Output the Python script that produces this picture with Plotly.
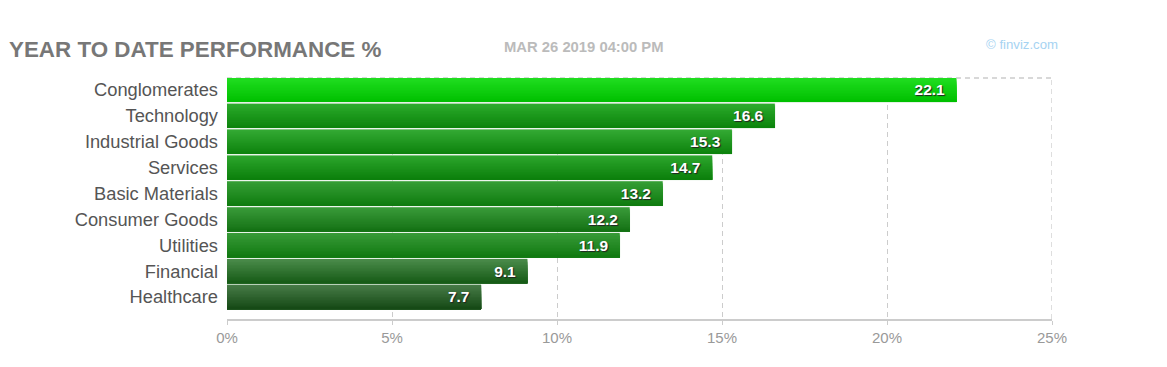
import plotly.graph_objects as go

categories = ["Conglomerates", "Technology", "Industrial Goods", "Services", "Basic Materials",
              "Consumer Goods", "Utilities", "Financial", "Healthcare"]
values = [22.1, 16.6, 15.3, 14.7, 13.2, 12.2, 11.9, 9.1, 7.7]
labels = ["22.1", "16.6", "15.3", "14.7", "13.2", "12.2", "11.9", "9.1", "7.7"]
top_colors = ["#20dd20", "#2cab2c", "#33a933", "#2ca52c", "#359e35", "#3a9a3a", "#379a37", "#4a8a4a", "#467a46"]
bottom_colors = ["#00c000", "#0c840c", "#0e840e", "#0c800c", "#107c10", "#147214", "#127a12", "#175c17", "#164a16"]
x_ticks = [0, 5, 10, 15, 20, 25]
x_tick_labels = ["0%", "5%", "10%", "15%", "20%", "25%"]

FONT = "Liberation Sans, Arial, sans-serif"
BAR_W = 0.94
STRIPS = 16
DASH = "5px,4px"


def rgb(h):
    return tuple(int(h[i:i + 2], 16) for i in (1, 3, 5))


def mix(a, b, t):
    ca, cb = rgb(a), rgb(b)
    return "rgb(%d,%d,%d)" % tuple(round(p + (q - p) * t) for p, q in zip(ca, cb))


fig = go.Figure()
fig.add_trace(go.Bar(y=categories, x=values, orientation="h", width=BAR_W,
                     marker=dict(color="rgba(0,0,0,0)", line=dict(color="#cfe6cf", width=1)),
                     hoverinfo="skip", showlegend=False))
for s in range(STRIPS):
    t = s / (STRIPS - 1)
    offs = -BAR_W / 2 + BAR_W * s / STRIPS
    fig.add_trace(go.Bar(
        y=categories, x=values, orientation="h",
        width=BAR_W - BAR_W * s / STRIPS,
        offset=offs,
        marker=dict(color=[mix(a, b, t) for a, b in zip(top_colors, bottom_colors)], line=dict(width=0)),
        hoverinfo="skip", showlegend=False))
fig.add_trace(go.Bar(
    y=categories, x=values, orientation="h", width=BAR_W,
    marker=dict(color="rgba(0,0,0,0)", line=dict(width=0)),
    text=labels, texttemplate="%{text}\u00a0\u00a0", textposition="inside", insidetextanchor="end", textangle=0,
    constraintext="none",
    textfont=dict(family=FONT, size=15.5, color="white", weight="bold",
                  shadow="1px 1px 1px #222"),
    hoverinfo="skip", showlegend=False))

fig.update_layout(
    width=None, height=None, autosize=True,
    barmode="overlay",
    paper_bgcolor="white", plot_bgcolor="white",
    margin=dict(l=219, r=107, t=70, b=40),
    font=dict(family=FONT),
    xaxis=dict(range=[0, 25], tickvals=x_ticks, ticktext=x_tick_labels,
               showgrid=True, gridcolor="#cccccc", griddash=DASH, gridwidth=1.3,
               zeroline=False, showline=True, linecolor="#cccccc", linewidth=2,
               ticks="outside", ticklen=4, tickcolor="#cccccc",
               tickfont=dict(size=15, color="#999999", family=FONT), fixedrange=True),
    yaxis=dict(type="category", categoryorder="array", categoryarray=categories,
               range=[8.85, -0.46], showgrid=False, zeroline=False, showline=False,
               ticks="", ticklabelstandoff=8,
               tickfont=dict(size=18.3, color="#555555", family=FONT), fixedrange=True),
    shapes=[
        dict(type="line", xref="x", yref="paper", x0=0, x1=25, y0=1, y1=1,
             line=dict(color="#cccccc", width=1.3, dash=DASH), layer="below"),
        dict(type="line", xref="x", yref="paper", x0=25, x1=25, y0=0, y1=1,
             line=dict(color="#cccccc", width=1.3, dash=DASH), layer="below"),
    ],
    annotations=[
        dict(text="<b>YEAR TO DATE PERFORMANCE %</b>", xref="paper", yref="paper",
             xanchor="left", yanchor="middle", x=-220 / 825, y=1 + 29 / 242, showarrow=False,
             font=dict(size=22.4, color="#777777", family=FONT)),
        dict(text="<b>MAR 26 2019 04:00 PM</b>", xref="paper", yref="paper",
             xanchor="left", yanchor="middle", x=(502 - 227) / 825, y=1 + 31 / 242, showarrow=False,
             font=dict(size=14.8, color="#bbbbbb", family=FONT)),
        dict(text="© finviz.com", xref="paper", yref="paper",
             xanchor="left", yanchor="middle", x=(984 - 227) / 825, y=1 + 34 / 242, showarrow=False,
             font=dict(size=13.2, color="#a6d3f2", family=FONT)),
    ],
)
fig.write_html("out.html", config=dict(displayModeBar=False))
